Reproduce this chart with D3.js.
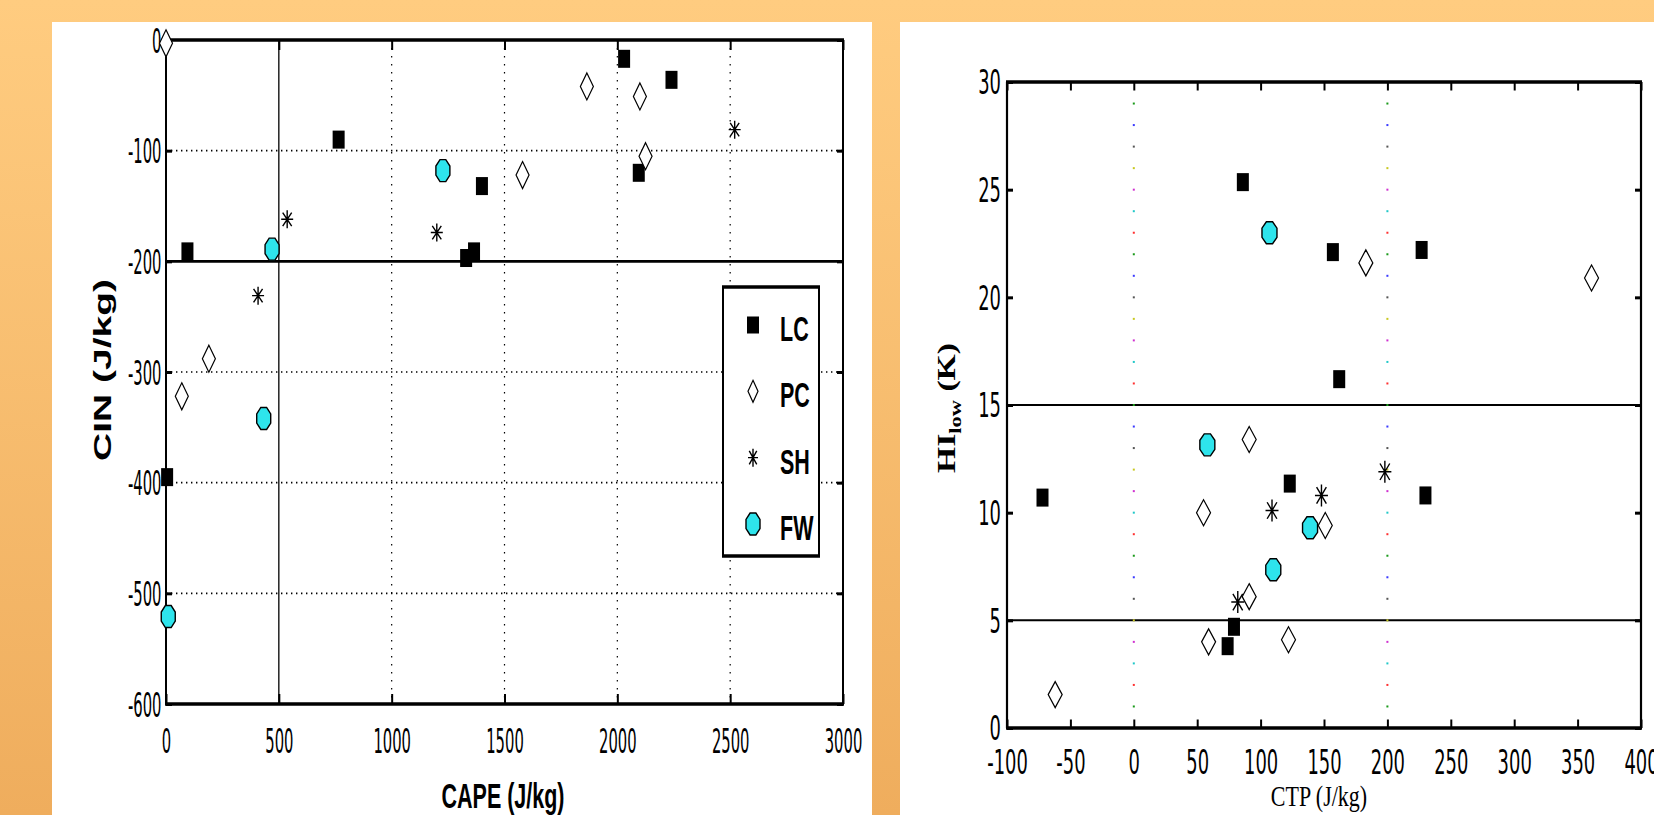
<!DOCTYPE html>
<html>
<head>
<meta charset="utf-8">
<script src="https://cdn.jsdelivr.net/npm/d3@7"></script>
<style>
  html, body { margin: 0; padding: 0; }
  body { width: 1654px; height: 815px; overflow: hidden; }
  svg { display: block; }
</style>
</head>
<body>
<script>
// left panel: CAPE vs CIN
const lcCape = [2030, 2240, 765, 2095, 1400, 95, 1365, 1330, 5];
const lcCin = [-17, -36, -90, -120, -132, -191, -191, -197, -395];
const pcCape = [0, 1865, 2100, 2125, 1580, 190, 70];
const pcCin = [-3, -42, -51, -105, -122, -288, -322];
const shCape = [2520, 537, 1200, 408];
const shCin = [-81, -162, -174, -231];
const fwCape = [1227, 470, 433, 10];
const fwCin = [-118, -189, -342, -521];

// right panel: CTP vs HI_low
const lcCtp = [86, 157, 227, 162, -72, 123, 230, 79, 74];
const lcHi = [25.35, 22.1, 22.2, 16.2, 10.7, 11.35, 10.8, 4.7, 3.8];
const pcCtp = [183, 361, 91, 55, 151, 91, 59, 122, -62];
const pcHi = [21.6, 20.9, 13.4, 10.0, 9.4, 6.1, 4.0, 4.1, 1.55];
const shCtp = [198, 148, 109, 82];
const shHi = [11.9, 10.8, 10.1, 5.85];
const fwCtp = [107, 58, 139, 110];
const fwHi = [23.0, 13.15, 9.3, 7.35];

const groups = ["LC", "PC", "SH", "FW"];

// ticks / reference lines
const capeTicks = [0, 500, 1000, 1500, 2000, 2500, 3000];
const cinTicks = [-600, -500, -400, -300, -200, -100, 0];
const capeGrid = [1000, 1500, 2000, 2500];
const cinGrid = [-500, -400, -300, -100];
const capeRef = [500];
const cinRef = [-200];
const ctpTicks = [-100, -50, 0, 50, 100, 150, 200, 250, 300, 350, 400];
const hiTicks = [0, 5, 10, 15, 20, 25, 30];
const hiRef = [5, 15];
const ctpRef = [0, 200];
const refDotHi = d3.range(0, 31);
const dotColors = ["#3a3aff", "#1a9a1a", "#ff3030", "#20c8c8", "#d030d0", "#c8c820", "#555555"];

const W = 1654, H = 815;
const CYAN = "#2ee4ec";
const narrowFont = "'Liberation Sans Narrow', 'Arial Narrow', 'DejaVu Sans Condensed', sans-serif";
const sansFont = "'Liberation Sans', Arial, sans-serif";
const serifFont = "'Liberation Serif', 'Times New Roman', serif";

const svg = d3.select("body").append("svg").attr("width", W).attr("height", H);

// background
const grad = svg.append("defs").append("linearGradient")
  .attr("id", "bg").attr("x1", 0).attr("y1", 0).attr("x2", 0).attr("y2", 1);
grad.append("stop").attr("offset", "0%").attr("stop-color", "#ffcc80");
grad.append("stop").attr("offset", "100%").attr("stop-color", "#efad5d");
svg.append("rect").attr("width", W).attr("height", H).attr("fill", "url(#bg)");
svg.append("rect").attr("x", 52).attr("y", 22).attr("width", 820).attr("height", H - 22).attr("fill", "#fff");
svg.append("rect").attr("x", 900).attr("y", 22).attr("width", W - 900).attr("height", H - 22).attr("fill", "#fff");

// how wide the narrow font really is (fallback squeeze if it is missing)
function squeeze(fs) {
  const t = svg.append("text").attr("font-family", narrowFont).attr("font-size", fs).text("1000");
  const w = t.node().getComputedTextLength();
  t.remove();
  return Math.min(1, (4 * 0.456 * fs) / w);
}

function marker(g, type, w, h) {
  if (type === "LC") {
    g.append("rect").attr("x", -w / 2).attr("y", -h / 2).attr("width", w).attr("height", h).attr("fill", "#000");
  } else if (type === "PC") {
    g.append("path").attr("d", `M0,${-h / 2}L${w / 2},0L0,${h / 2}L${-w / 2},0Z`)
      .attr("fill", "#fff").attr("stroke", "#000").attr("stroke-width", 1.2);
  } else if (type === "SH") {
    const a = w / 2, b = h / 2;
    g.append("path")
      .attr("d", `M0,${-b}V${b}M${-a},0H${a}M${-a * 0.75},${-b * 0.75}L${a * 0.75},${b * 0.75}M${a * 0.75},${-b * 0.75}L${-a * 0.75},${b * 0.75}`)
      .attr("fill", "none").attr("stroke", "#000").attr("stroke-width", 1.4);
  } else {
    const pts = d3.range(8).map(i => {
      const t = Math.PI / 8 + i * Math.PI / 4;
      return [Math.cos(t) * w / 2 / Math.cos(Math.PI / 8), Math.sin(t) * h / 2 / Math.cos(Math.PI / 8)];
    });
    g.append("path").attr("d", "M" + pts.map(p => p.join(",")).join("L") + "Z")
      .attr("fill", CYAN).attr("stroke", "#000").attr("stroke-width", 1.4);
  }
}

function panel(cfg) {
  const { x, y, S, fs, box, sizes } = cfg;
  const g = svg.append("g");
  const k = squeeze(fs);
  const [x0, x1] = x.range();
  const [y1, y0] = y.range();

  // grid & reference lines
  if (cfg.vGrid) g.selectAll(".vg").data(cfg.vGrid).join("line")
    .attr("x1", d => x(d)).attr("x2", d => x(d)).attr("y1", y0).attr("y2", y1)
    .attr("stroke", "#000").attr("stroke-width", 1.2).attr("stroke-dasharray", "1.6,6.4");
  if (cfg.hGrid) g.selectAll(".hg").data(cfg.hGrid).join("line")
    .attr("x1", x0).attr("x2", x1).attr("y1", d => y(d)).attr("y2", d => y(d))
    .attr("stroke", "#000").attr("stroke-width", 1.6).attr("stroke-dasharray", "1.4,3.6");
  if (cfg.vRef) g.selectAll(".vr").data(cfg.vRef).join("line")
    .attr("x1", d => x(d)).attr("x2", d => x(d)).attr("y1", y0).attr("y2", y1)
    .attr("stroke", "#000").attr("stroke-width", 1.3);
  if (cfg.hRef) g.selectAll(".hr").data(cfg.hRef).join("line")
    .attr("x1", x0).attr("x2", x1).attr("y1", d => y(d)).attr("y2", d => y(d))
    .attr("stroke", "#000").attr("stroke-width", cfg.hRefW);
  if (cfg.dotRef) cfg.dotRef.forEach(xv => {
    g.selectAll(null).data(refDotHi).join("rect")
      .attr("x", x(xv) - 1).attr("y", d => y(d) - 1).attr("width", 2).attr("height", 2)
      .attr("fill", d => dotColors[d % 7]);
  });

  // box
  g.append("line").attr("x1", x0 - 1).attr("x2", x1 + 1).attr("y1", y0).attr("y2", y0).attr("stroke", "#000").attr("stroke-width", box[0]);
  g.append("line").attr("x1", x0 - 1).attr("x2", x1 + 1).attr("y1", y1).attr("y2", y1).attr("stroke", "#000").attr("stroke-width", box[0]);
  g.append("line").attr("x1", x0).attr("x2", x0).attr("y1", y0).attr("y2", y1).attr("stroke", "#000").attr("stroke-width", box[1]);
  g.append("line").attr("x1", x1).attr("x2", x1).attr("y1", y0).attr("y2", y1).attr("stroke", "#000").attr("stroke-width", box[1]);

  const tickStyle = (sel, sw) => sel
    .call(a => a.select(".domain").remove())
    .call(a => a.selectAll(".tick line").attr("stroke", "#000").attr("stroke-width", sw));

  // bottom (labels) and top ticks
  g.append("g").attr("transform", `translate(0,${y1})`)
    .call(d3.axisBottom(x).tickValues(cfg.xTicks).tickSize(-cfg.tickX).tickFormat(d => String(d)))
    .call(a => tickStyle(a, 2))
    .call(a => a.selectAll(".tick text").attr("y", 0).attr("dy", null)
      .attr("font-family", narrowFont).attr("font-size", fs).attr("fill", "#000")
      .attr("transform", `translate(0,${cfg.xLabOff}) scale(${k},${S})`));
  g.append("g").attr("transform", `translate(0,${y0})`)
    .call(d3.axisTop(x).tickValues(cfg.xTicks).tickSize(-cfg.tickX).tickFormat(""))
    .call(a => tickStyle(a, 2));

  // left (labels) and right ticks
  g.append("g").attr("transform", `translate(${x0},0)`)
    .call(d3.axisLeft(y).tickValues(cfg.yTicks).tickSize(-cfg.tickY).tickFormat(d => String(d)))
    .call(a => tickStyle(a, 3))
    .call(a => a.selectAll(".tick text").attr("x", cfg.yLabOff / k).attr("dy", "0.36em")
      .attr("font-family", narrowFont).attr("font-size", fs).attr("fill", "#000")
      .attr("transform", `scale(${k},${S})`));
  g.append("g").attr("transform", `translate(${x1},0)`)
    .call(d3.axisRight(y).tickValues(cfg.yTicks).tickSize(-cfg.tickY).tickFormat(""))
    .call(a => tickStyle(a, 3));

  // points
  cfg.series.forEach((s, i) => {
    const type = groups[i];
    const [w, h] = sizes[type];
    g.selectAll(null).data(s.xs.map((v, j) => [v, s.ys[j]])).join("g")
      .attr("transform", d => `translate(${x(d[0])},${y(d[1])})`)
      .each(function () { marker(d3.select(this), type, w, h); });
  });
  return g;
}

// ---------- left chart ----------
const SL = 1.66;
const xL = d3.scaleLinear().domain([0, 3000]).range([166, 843]);
const yL = d3.scaleLinear().domain([-600, 0]).range([704, 40]);
const gL = panel({
  x: xL, y: yL, S: SL, fs: 20.6, box: [3.6, 2],
  xTicks: capeTicks, yTicks: cinTicks, tickX: 10, tickY: 6,
  xLabOff: 49, yLabOff: -4.5,
  vGrid: capeGrid, hGrid: cinGrid, vRef: capeRef, hRef: cinRef, hRefW: 2.6,
  sizes: { LC: [12, 18], PC: [13, 27], SH: [12, 18], FW: [14, 22] },
  series: [
    { xs: lcCape, ys: lcCin }, { xs: pcCape, ys: pcCin },
    { xs: shCape, ys: shCin }, { xs: fwCape, ys: fwCin }
  ]
});

gL.append("text")
  .attr("transform", `translate(503,808) scale(1,${SL})`)
  .attr("text-anchor", "middle").attr("font-family", sansFont).attr("font-weight", "bold")
  .attr("font-size", 21.5).text("CAPE (J/kg)");
gL.append("text")
  .attr("transform", `translate(111,370) scale(1,${SL}) rotate(-90)`)
  .attr("text-anchor", "middle").attr("font-family", sansFont).attr("font-weight", "bold")
  .attr("font-size", 23.5).text("CIN (J/kg)");

// legend
const leg = gL.append("g");
leg.append("rect").attr("x", 723).attr("y", 287).attr("width", 96).attr("height", 269)
  .attr("fill", "#fff").attr("stroke", "#000").attr("stroke-width", 2);
leg.append("line").attr("x1", 722).attr("x2", 820).attr("y1", 287).attr("y2", 287).attr("stroke", "#000").attr("stroke-width", 3.6);
leg.append("line").attr("x1", 722).attr("x2", 820).attr("y1", 556).attr("y2", 556).attr("stroke", "#000").attr("stroke-width", 3.6);
const legY = d3.scalePoint().domain(groups).range([328, 527]);
const legSize = { LC: [12, 17], PC: [10, 22], SH: [10, 18], FW: [14, 22] };
groups.forEach(t => {
  const m = leg.append("g").attr("transform", `translate(753,${legY(t) - 3})`);
  marker(m, t, legSize[t][0], legSize[t][1]);
  leg.append("text").attr("transform", `translate(780,${legY(t) + 13}) scale(1,${SL})`)
    .attr("font-family", sansFont).attr("font-weight", "bold").attr("font-size", 21.5).text(t);
});

// ---------- right chart ----------
const SR = 1.32;
const xR = d3.scaleLinear().domain([-100, 400]).range([1007, 1641]);
const yR = d3.scaleLinear().domain([0, 30]).range([728, 82]);
const gR = panel({
  x: xR, y: yR, S: SR, fs: 25, box: [3.4, 2.2],
  xTicks: ctpTicks, yTicks: hiTicks, tickX: 8.5, tickY: 6,
  xLabOff: 46, yLabOff: -6,
  hRef: hiRef, hRefW: 2, dotRef: ctpRef,
  sizes: { LC: [12, 18], PC: [14, 26], SH: [13, 22], FW: [15, 22] },
  series: [
    { xs: lcCtp, ys: lcHi }, { xs: pcCtp, ys: pcHi },
    { xs: shCtp, ys: shHi }, { xs: fwCtp, ys: fwHi }
  ]
});

gR.append("text")
  .attr("transform", `translate(1319,806) scale(1,${SR})`)
  .attr("text-anchor", "middle").attr("font-family", serifFont)
  .attr("font-size", 22).text("CTP (J/kg)");
const hl = gR.append("text")
  .attr("transform", `translate(955,408) scale(1,${SR}) rotate(-90)`)
  .attr("text-anchor", "middle").attr("font-family", serifFont).attr("font-weight", "bold")
  .attr("font-size", 25.5);
hl.append("tspan").text("HI");
hl.append("tspan").attr("font-size", 17).attr("dy", 6).text("low");
hl.append("tspan").attr("dy", -6).text("\u00a0(K)");
</script>
</body>
</html>
